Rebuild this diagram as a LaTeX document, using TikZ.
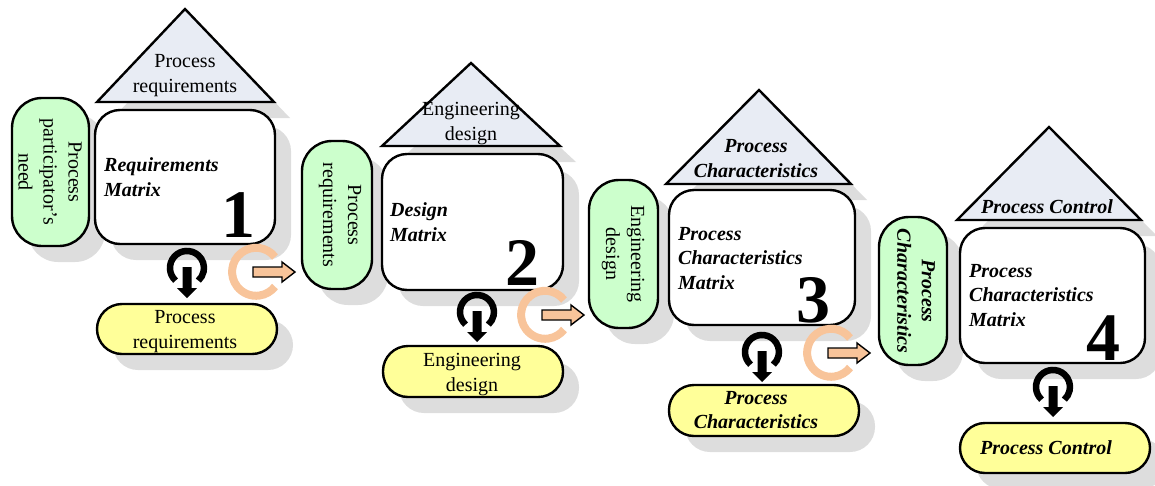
\documentclass[tikz,border=0pt]{standalone}
\usepackage{fontspec}
\setmainfont{Liberation Serif}
\definecolor{shadowc}{HTML}{DDDDDD}
\definecolor{greenc}{HTML}{CCFFCC}
\definecolor{yellowc}{HTML}{FFFF99}
\definecolor{triac}{HTML}{E8ECF4}
\definecolor{orangec}{HTML}{F8C49A}
\tikzset{
  x=1pt,y=-1pt,
  outl/.style={draw=black,line width=2.4pt,line join=miter},
  txt/.style={font=\fontsize{20}{25}\selectfont,align=center,inner sep=0pt},
  bi/.style={txt,font=\fontsize{20}{24.5}\selectfont\bfseries\itshape},
  lefttxt/.style={bi,align=left,anchor=west},
  num/.style={font=\fontsize{68}{68}\selectfont\bfseries,inner sep=0pt},
}
% name, x1, y1, x2, y2, radius, fill
\newcommand{\shbox}[7]{%
  \pgfmathsetmacro{\ww}{#4-#2}\pgfmathsetmacro{\hh}{#5-#3}%
  \pgfmathsetmacro{\cx}{(#2+#4)/2}\pgfmathsetmacro{\cy}{(#3+#5)/2}%
  \node[outl,fill=#7,rounded corners=#6pt,minimum width=\ww pt,minimum height=\hh pt,inner sep=0pt] (#1) at (\cx,\cy) {};}
\newcommand{\shadowbox}[5]{%
  \fill[shadowc,rounded corners=#5pt] (#1+16,#2+16) rectangle (#3+16,#4+16);}
% black power icon: cx, cy
\newcommand{\powericon}[2]{%
  \draw[line width=6.5pt] (#1-11.4,#2+12.6) arc[start angle=132,end angle=408,radius=17];
  \fill[black] (#1-4.5,#2-1) -- (#1+4.5,#2-1) -- (#1+4.5,#2+20) -- (#1+10,#2+20) -- (#1,#2+30) -- (#1-10,#2+20) -- (#1-4.5,#2+20) -- cycle;}
% orange ring and arrow: cx, cy
\newcommand{\flowicon}[2]{%
  \draw[orangec,line width=8pt] (#1+19,#2-15) arc[start angle=-38,end angle=-322,radius=24];
  \draw[black,line width=1.4pt,fill=orangec,line join=miter] (#1-3,#2-5) -- (#1+26,#2-5) -- (#1+26,#2-10) -- (#1+39,#2) -- (#1+26,#2+10) -- (#1+26,#2+5) -- (#1-3,#2+5) -- cycle;}
\begin{document}
\begin{tikzpicture}
\useasboundingbox (0,0) rectangle (1155,485);
% shadows
\shadowbox{12}{98}{89}{246}{30}
\shadowbox{95}{110}{275}{244}{25}
\shadowbox{97}{304}{277}{354}{25}
\fill[shadowc] (113,118) -- (290,118) -- (201,25) -- cycle;
\shadowbox{302}{141}{372}{289}{30}
\shadowbox{382}{154}{563}{290}{25}
\shadowbox{383}{346}{563}{397}{25}
\fill[shadowc] (398,162) -- (576,162) -- (487,79) -- cycle;
\shadowbox{589}{180}{658}{328}{30}
\shadowbox{669}{190}{855}{325}{25}
\shadowbox{669}{385}{859}{436}{25}
\fill[shadowc] (682,200) -- (867,200) -- (775,106) -- cycle;
\shadowbox{879}{217}{947}{365}{30}
\shadowbox{960}{228}{1145}{363}{25}
\shadowbox{960}{423}{1150}{473}{25}
\fill[shadowc] (973,236) -- (1157,236) -- (1065,143) -- cycle;
% group 1
\draw[outl,fill=triac] (185,9) -- (274,102) -- (97,102) -- cycle;
\node[txt] (t1) at (185,76) {Process\\requirements};
\shbox{g1}{12}{98}{89}{246}{30}{greenc}
\node[txt,rotate=-90] (g1t) at (50,172) {Process\\participator’s\\need};
\shbox{m1}{95}{110}{275}{244}{25}{white}
\node[lefttxt] (m1t) at (104,177) {Requirements\\Matrix};
\node[num] (n1) at (238,215) {1};
\shbox{y1}{97}{304}{277}{354}{25}{yellowc}
\node[txt] (y1t) at (185,332) {Process\\requirements};
\powericon{187}{268}
\flowicon{256}{272}
% group 2
\draw[outl,fill=triac] (471,63) -- (560,146) -- (382,146) -- cycle;
\node[txt] (t2) at (471,124) {Engineering\\design};
\shbox{g2}{302}{141}{372}{289}{30}{greenc}
\node[txt,rotate=-90] (g2t) at (340,215) {Process\\requirements};
\shbox{m2}{382}{154}{563}{290}{25}{white}
\node[lefttxt] (m2t) at (390,222) {Design\\Matrix};
\node[num] (n2) at (522,263) {2};
\shbox{y2}{383}{346}{563}{397}{25}{yellowc}
\node[txt] (y2t) at (472,375) {Engineering\\design};
\powericon{477}{312}
\flowicon{545}{315}
% group 3
\draw[outl,fill=triac] (759,90) -- (851,184) -- (666,184) -- cycle;
\node[bi] (t3) at (756,158.5) {Process\\Characteristics};
\shbox{g3}{589}{180}{658}{328}{30}{greenc}
\node[txt,rotate=-90] (g3t) at (623,254) {Engineering\\design};
\shbox{m3}{669}{190}{855}{325}{25}{white}
\node[lefttxt] (m3t) at (678,258.5) {Process\\Characteristics\\Matrix};
\node[num] (n3) at (813,300) {3};
\shbox{y3}{669}{385}{859}{436}{25}{yellowc}
\node[bi] (y3t) at (756,410) {Process\\Characteristics};
\powericon{762}{352}
\flowicon{831}{353}
% group 4
\draw[outl,fill=triac] (1049,127) -- (1141,220) -- (957,220) -- cycle;
\node[bi] (t4) at (1047,207) {Process Control};
\shbox{g4}{879}{217}{947}{365}{30}{greenc}
\node[bi,rotate=-90] (g4t) at (916,291) {Process\\Characteristics};
\shbox{m4}{960}{228}{1145}{363}{25}{white}
\node[lefttxt] (m4t) at (969,295.5) {Process\\Characteristics\\Matrix};
\node[num] (n4) at (1103,338) {4};
\shbox{y4}{960}{423}{1150}{473}{25}{yellowc}
\node[bi] (y4t) at (1046,448) {Process Control};
\powericon{1053}{387}
\end{tikzpicture}
\end{document}
